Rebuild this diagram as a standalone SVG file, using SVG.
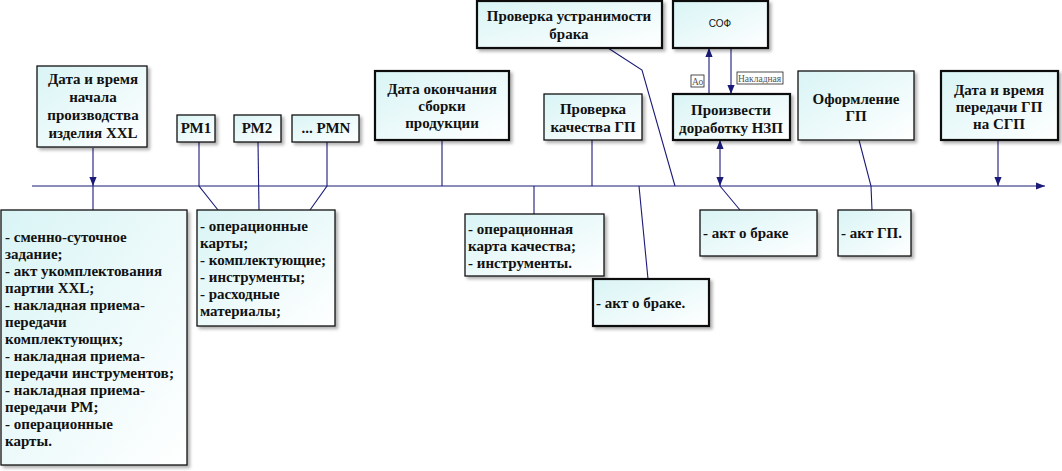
<svg xmlns="http://www.w3.org/2000/svg" width="1062" height="471" viewBox="0 0 1062 471">
<style>
.box{fill:url(#g);stroke:#111;stroke-width:1.3;filter:url(#sh)}
.bx2{fill:url(#g);stroke:#111;stroke-width:2.2;filter:url(#sh)}
.t{font-family:"Liberation Serif","Times New Roman",serif;font-weight:bold;font-size:15px;fill:#111}
.c{text-anchor:middle}
.s{font-family:"Liberation Sans",Arial,sans-serif;font-size:10px;fill:#111}
.lb{font-family:"Liberation Serif",serif;font-size:9.5px;fill:#555}
.ln{stroke:#1a1a78;stroke-width:1.1;fill:none}
.lbl{fill:#fff;stroke:#222;stroke-width:0.8}
</style>
<defs>
<linearGradient id="g" x1="0" y1="0" x2="1" y2="1">
<stop offset="0" stop-color="#d9f4f5"/>
<stop offset="1" stop-color="#ffffff"/>
</linearGradient>
<filter id="sh" x="-10%" y="-10%" width="130%" height="130%">
<feDropShadow dx="2.5" dy="2.5" stdDeviation="1.5" flood-color="#000" flood-opacity="0.3"/>
</filter>
<marker id="ah" viewBox="0 0 10 10" refX="10" refY="5" markerWidth="9" markerHeight="9" markerUnits="userSpaceOnUse" orient="auto">
<path d="M0,1 L10,5 L0,9 Z" fill="#1a1a78"/>
</marker>
<marker id="ahs" viewBox="0 0 10 10" refX="0" refY="5" markerWidth="9" markerHeight="9" markerUnits="userSpaceOnUse" orient="auto">
<path d="M10,1 L0,5 L10,9 Z" fill="#1a1a78"/>
</marker>
</defs>
<rect width="1062" height="471" fill="#fff"/>

<g id="connectors">
<line class="ln" x1="32" y1="186" x2="1045" y2="186" marker-end="url(#ah)"/>
<line class="ln" x1="93" y1="148" x2="93" y2="186" marker-end="url(#ah)"/>
<line class="ln" x1="93" y1="186" x2="93" y2="210"/>
<polyline class="ln" points="199,142 199,186 218,210"/>
<line class="ln" x1="258" y1="142" x2="259" y2="210"/>
<polyline class="ln" points="327,142 327,186 310,210"/>
<line class="ln" x1="442" y1="140" x2="442" y2="186"/>
<line class="ln" x1="592" y1="140" x2="592" y2="186"/>
<polyline class="ln" points="608,48 642,70 675,186"/>
<line class="ln" x1="534" y1="186" x2="534" y2="214"/>
<line class="ln" x1="639" y1="186" x2="648" y2="279"/>
<line class="ln" x1="709" y1="94" x2="709" y2="48" marker-end="url(#ah)"/>
<line class="ln" x1="731" y1="48" x2="731" y2="94" marker-end="url(#ah)"/>
<line class="ln" x1="720" y1="140" x2="720" y2="186" marker-start="url(#ahs)" marker-end="url(#ah)"/>
<line class="ln" x1="720" y1="186" x2="740" y2="210"/>
<polyline class="ln" points="859,140 871,186 872,210"/>
<line class="ln" x1="998" y1="140" x2="998" y2="186" marker-end="url(#ah)"/>
<rect class="lbl" x="691" y="75" width="13" height="12"/>
<text class="lb" x="692" y="84.5">Ао</text>
<rect class="lbl" x="737" y="72" width="46" height="12"/>
<text class="lb" x="738" y="81.5">Накладная</text>
</g>

<g id="n-start">
<rect class="box" x="37" y="66" width="110" height="81"/>
<text class="t c" x="93" y="84">Дата и время</text>
<text class="t c" x="93" y="102">начала</text>
<text class="t c" x="93" y="120">производства</text>
<text class="t c" x="93" y="138">изделия XXL</text>
</g>

<g id="n-rm1"><rect class="box" x="177" y="115" width="38" height="27"/><text class="t c" x="196" y="133">РМ1</text></g>
<g id="n-rm2"><rect class="box" x="234" y="115" width="47" height="27"/><text class="t c" x="257" y="133">РМ2</text></g>
<g id="n-rmn"><rect class="box" x="292" y="115" width="67" height="27"/><text class="t c" x="326" y="133">... РМN</text></g>

<g id="n-docs1">
<rect class="box" x="1" y="210" width="186" height="255"/>
<text class="t" x="5" y="242">- сменно-суточное</text>
<text class="t" x="5" y="259">задание;</text>
<text class="t" x="5" y="276">- акт укомплектования</text>
<text class="t" x="5" y="293">партии XXL;</text>
<text class="t" x="5" y="310">- накладная приема-</text>
<text class="t" x="5" y="327">передачи</text>
<text class="t" x="5" y="344">комплектующих;</text>
<text class="t" x="5" y="361">- накладная приема-</text>
<text class="t" x="5" y="378" textLength="169" lengthAdjust="spacingAndGlyphs">передачи инструментов;</text>
<text class="t" x="5" y="395">- накладная приема-</text>
<text class="t" x="5" y="412">передачи РМ;</text>
<text class="t" x="5" y="429">- операционные</text>
<text class="t" x="5" y="446">карты.</text>
</g>

<g id="n-docs2">
<rect class="box" x="197" y="210" width="138" height="116"/>
<text class="t" x="200" y="231">- операционные</text>
<text class="t" x="200" y="248">карты;</text>
<text class="t" x="200" y="265">- комплектующие;</text>
<text class="t" x="200" y="282">- инструменты;</text>
<text class="t" x="200" y="299">- расходные</text>
<text class="t" x="200" y="316">материалы;</text>
</g>

<g id="n-end-assembly">
<rect class="bx2" x="375" y="71" width="134" height="69"/>
<text class="t c" x="442" y="94">Дата окончания</text>
<text class="t c" x="442" y="111">сборки</text>
<text class="t c" x="442" y="128">продукции</text>
</g>

<g id="n-quality">
<rect class="box" x="544" y="94" width="98" height="46"/>
<text class="t c" x="593" y="114">Проверка</text>
<text class="t c" x="593" y="132">качества ГП</text>
</g>

<g id="n-defect-check">
<rect class="bx2" x="477" y="1" width="185" height="47"/>
<text class="t c" x="569" y="21">Проверка устранимости</text>
<text class="t c" x="569" y="39">брака</text>
</g>

<g id="n-sof">
<rect class="bx2" x="673" y="1" width="95" height="47"/>
<text class="s c" x="720" y="27">СОФ</text>
</g>

<g id="n-rework">
<rect class="bx2" x="673" y="94" width="117" height="46"/>
<text class="t c" x="731" y="115">Произвести</text>
<text class="t c" x="731" y="133">доработку НЗП</text>
</g>

<g id="n-finish">
<rect class="box" x="798" y="71" width="116" height="69"/>
<text class="t c" x="856" y="104">Оформление</text>
<text class="t c" x="856" y="121">ГП</text>
</g>

<g id="n-transfer">
<rect class="bx2" x="941" y="71" width="117" height="69"/>
<text class="t c" x="999" y="95">Дата и время</text>
<text class="t c" x="999" y="112">передачи ГП</text>
<text class="t c" x="999" y="129">на СГП</text>
</g>

<g id="n-qdocs">
<rect class="box" x="465" y="214" width="139" height="62"/>
<text class="t" x="468" y="234">- операционная</text>
<text class="t" x="468" y="251">карта качества;</text>
<text class="t" x="468" y="268">- инструменты.</text>
</g>

<g id="n-act1">
<rect class="bx2" x="593" y="279" width="116" height="47"/>
<text class="t" x="596" y="308">- акт о браке.</text>
</g>

<g id="n-act2">
<rect class="box" x="700" y="210" width="117" height="46"/>
<text class="t" x="703" y="238">- акт о браке</text>
</g>

<g id="n-act3">
<rect class="box" x="838" y="210" width="73" height="46"/>
<text class="t" x="841" y="238">- акт ГП.</text>
</g>
</svg>
